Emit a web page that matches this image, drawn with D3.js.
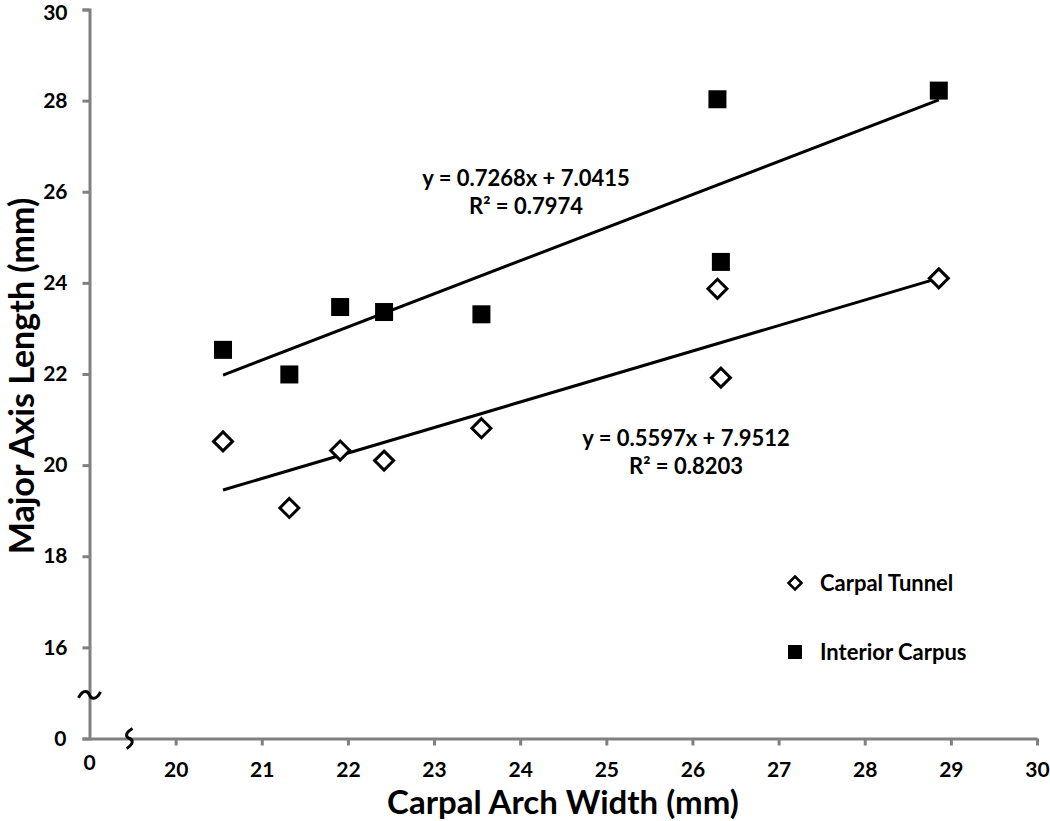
<!DOCTYPE html>
<html>
<head>
<meta charset="utf-8">
<script src="https://cdn.jsdelivr.net/npm/d3@7"></script>
<style>
  html, body { margin: 0; padding: 0; background: #fff; }
  svg { display: block; }
  text { font-family: Lato, "Open Sans", "Liberation Sans", sans-serif; font-weight: bold; fill: #000; }
</style>
</head>
<body>
<svg id="chart" width="1050" height="821"></svg>
<script>
// ---------- data ----------
const carpalArchWidth = [20.55, 21.32, 21.91, 22.42, 23.55, 26.29, 26.33, 28.86];
const carpalTunnel    = [20.52, 19.06, 20.32, 20.10, 20.81, 23.87, 21.92, 24.10];
const interiorCarpus  = [22.53, 21.99, 23.47, 23.36, 23.31, 28.03, 24.46, 28.22];
const seriesNames     = ["Carpal Tunnel", "Interior Carpus"];
const trendSlopes     = [0.5597, 0.7268];
const trendIntercepts = [7.9512, 7.0415];
const trendEquations  = [["y = 0.5597x + 7.9512", "R² = 0.8203"], ["y = 0.7268x + 7.0415", "R² = 0.7974"]];
const xTicks = [20, 21, 22, 23, 24, 25, 26, 27, 28, 29, 30];
const yTicks = [14, 16, 18, 20, 22, 24, 26, 28, 30];   // 14 stands for the broken "0"
const xBreakValue = 19;  // position drawn as "0" on the broken x axis
const yBreakValue = 14;  // position drawn as "0" on the broken y axis
const xTitle = "Carpal Arch Width (mm)";
const yTitle = "Major Axis Length (mm)";

// ---------- layout ----------
const svg = d3.select("#chart");
const axisColor = "#808080";
const tickFont = 21;
const x = d3.scaleLinear().domain([xBreakValue, 30]).range([89.5, 1037]);
const y = d3.scaleLinear().domain([yBreakValue, 30]).range([738.5, 9.5]);

// y axis
const yAxis = d3.axisLeft(y)
  .tickValues(yTicks)
  .tickFormat(d => d === yBreakValue ? "0" : d)
  .tickSize(7).tickSizeOuter(7).tickPadding(15);
const gy = svg.append("g").attr("transform", `translate(${x(xBreakValue)},0)`).call(yAxis);
gy.select(".domain").attr("stroke", axisColor).attr("stroke-width", 3);
gy.selectAll(".tick line").attr("stroke", axisColor).attr("stroke-width", 3);
gy.selectAll(".tick text").attr("font-size", tickFont).attr("font-family", "Lato").attr("font-weight", "bold").attr("fill", "#000");
gy.selectAll(".tick").filter(d => d === yBreakValue).select("text").attr("x", -23);
gy.selectAll(".tick").filter(d => d === 30).select("text").attr("dy", "0.48em");

// x axis
const xAxis = d3.axisBottom(x)
  .tickValues(xTicks)
  .tickSize(7).tickSizeOuter(0);
const gx = svg.append("g").attr("transform", `translate(0,${y(yBreakValue)})`).call(xAxis);
gx.select(".domain").attr("stroke", axisColor).attr("stroke-width", 3);
gx.selectAll(".tick line").attr("stroke", axisColor).attr("stroke-width", 3);
gx.selectAll(".tick text").attr("font-size", tickFont).attr("font-family", "Lato").attr("font-weight", "bold")
  .attr("fill", "#000").attr("y", 38).attr("dy", 0);
// x "0" label at the break position
svg.append("text").attr("x", x(xBreakValue)).attr("y", y(yBreakValue) + 31)
  .attr("text-anchor", "middle").attr("font-size", tickFont).text("0");

// axis-break symbols
const yb = { cx: x(xBreakValue), cy: (y(16) + y(yBreakValue)) / 2 + 2 };
svg.append("path")
  .attr("d", `M${yb.cx - 11},${yb.cy + 3} C${yb.cx - 6},${yb.cy - 7} ${yb.cx - 1},${yb.cy - 3} ${yb.cx},${yb.cy} S${yb.cx + 6},${yb.cy + 7} ${yb.cx + 11},${yb.cy - 3}`)
  .attr("fill", "none").attr("stroke", "#000").attr("stroke-width", 3);
const xb = { cx: (x(xBreakValue) + x(20)) / 2 - 3, cy: y(yBreakValue) };
svg.append("path")
  .attr("d", `M${xb.cx + 3},${xb.cy - 10} C${xb.cx - 6},${xb.cy - 5} ${xb.cx - 3},${xb.cy - 1} ${xb.cx},${xb.cy} S${xb.cx + 5},${xb.cy + 5} ${xb.cx - 3},${xb.cy + 10}`)
  .attr("fill", "none").attr("stroke", "#000").attr("stroke-width", 3);

// axis titles
svg.append("text").attr("x", 563).attr("y", 814).attr("text-anchor", "middle")
  .attr("font-size", 33).text(xTitle);
svg.append("text").attr("transform", "translate(34,376) rotate(-90)").attr("text-anchor", "middle")
  .attr("font-size", 34).text(yTitle);

// trend lines
const xMin = d3.min(carpalArchWidth), xMax = d3.max(carpalArchWidth);
trendSlopes.forEach((m, i) => {
  const b = trendIntercepts[i];
  svg.append("line")
    .attr("x1", x(xMin)).attr("y1", y(m * xMin + b))
    .attr("x2", x(xMax)).attr("y2", y(m * xMax + b))
    .attr("stroke", "#000").attr("stroke-width", 3);
});

// markers
const diamond = (cx, cy, r) => `M${cx},${cy - r} L${cx + r},${cy} L${cx},${cy + r} L${cx - r},${cy} Z`;
svg.append("g").selectAll("path").data(carpalArchWidth.map((w, i) => [w, carpalTunnel[i]])).join("path")
  .attr("d", d => diamond(x(d[0]), y(d[1]), 9.5))
  .attr("fill", "#fff").attr("stroke", "#000").attr("stroke-width", 3);
svg.append("g").selectAll("rect").data(carpalArchWidth.map((w, i) => [w, interiorCarpus[i]])).join("rect")
  .attr("x", d => x(d[0]) - 9).attr("y", d => y(d[1]) - 9)
  .attr("width", 18).attr("height", 18).attr("fill", "#000");

// equation labels
const eqPos = [[686, 446], [526, 186]];
trendEquations.forEach((lines, i) => {
  const t = svg.append("text").attr("text-anchor", "middle").attr("font-size", 22);
  lines.forEach((s, j) => {
    t.append("tspan").attr("x", eqPos[i][0]).attr("y", eqPos[i][1] + j * 28).text(s);
  });
});

// legend
const legend = svg.append("g");
const legY = [583, 652];
seriesNames.forEach((name, i) => {
  if (i === 0) {
    legend.append("path").attr("d", diamond(795, legY[i], 6.5))
      .attr("fill", "#fff").attr("stroke", "#000").attr("stroke-width", 2.5);
  } else {
    legend.append("rect").attr("x", 795 - 7).attr("y", legY[i] - 7)
      .attr("width", 14).attr("height", 14).attr("fill", "#000");
  }
  legend.append("text").attr("x", 820).attr("y", legY[i] + 8).attr("font-size", 22).text(name);
});
</script>
</body>
</html>
